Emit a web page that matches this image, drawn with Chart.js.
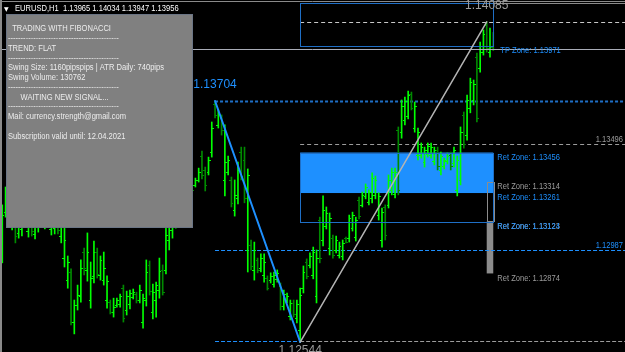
<!DOCTYPE html>
<html>
<head>
<meta charset="utf-8">
<script src="https://cdn.jsdelivr.net/npm/chart.js@4.4.1/dist/chart.umd.min.js"></script>
<style>
  html, body { margin: 0; padding: 0; background: #000; overflow: hidden; }
  #chart { display: block; background: #000; }
</style>
</head>
<body>
<canvas id="chart" width="625" height="352"></canvas>
<script>
// EURUSD H1 bars, oldest first
const opens = [
  1.12987, 1.13169, 1.13237, 1.13112, 1.13189, 1.13069, 1.13088, 1.13199, 1.13078, 1.13169,
  1.13064, 1.13102, 1.13233, 1.13112, 1.13214, 1.13088, 1.13092, 1.13165, 1.13054, 1.12948,
  1.12842, 1.12881, 1.12640, 1.12722, 1.12765, 1.12977, 1.12891, 1.12746, 1.12862, 1.12977,
  1.12867, 1.12842, 1.12746, 1.12736, 1.12688, 1.12722, 1.12727, 1.12803, 1.12698, 1.12727,
  1.12760, 1.12775, 1.12746, 1.12640, 1.12746, 1.12915, 1.12688, 1.12746, 1.12794, 1.12891,
  1.12891, 1.13035, 1.13083, 1.13169, 1.13247, 1.13189, 1.13228, 1.13257, 1.13343, 1.13300,
  1.13324, 1.13439, 1.13372, 1.13362, 1.13458, 1.13690, 1.13589, 1.13622, 1.13324, 1.13362,
  1.13324, 1.13179, 1.13237, 1.13458, 1.13420, 1.12987, 1.13011, 1.12891, 1.12939, 1.12900,
  1.12867, 1.12852, 1.12842, 1.12823, 1.12848, 1.12813, 1.12717, 1.12746, 1.12669, 1.12732,
  1.12659, 1.12602, 1.12803, 1.12929, 1.12915, 1.12867, 1.12765, 1.13131, 1.13035, 1.13102,
  1.12996, 1.13044, 1.12987, 1.12963, 1.12958, 1.13044, 1.13044, 1.13092, 1.13049, 1.13228,
  1.13204, 1.13247, 1.13218, 1.13237, 1.13252, 1.13155, 1.13035, 1.13194, 1.13204, 1.13276,
  1.13257, 1.13564, 1.13554, 1.13613, 1.13632, 1.13738, 1.13574, 1.13444, 1.13444, 1.13410,
  1.13449, 1.13444, 1.13415, 1.13468, 1.13372, 1.13391, 1.13415, 1.13444, 1.13406, 1.13276,
  1.13324, 1.13637, 1.13540, 1.13670, 1.13709, 1.13915, 1.13862, 1.13939, 1.14070, 1.13939,
  1.13965
];
const highs = [
  1.13204, 1.13290, 1.13252, 1.13228, 1.13204, 1.13204, 1.13179, 1.13228, 1.13204, 1.13189,
  1.13179, 1.13228, 1.13252, 1.13228, 1.13237, 1.13204, 1.13189, 1.13179, 1.13169, 1.13121,
  1.12958, 1.12896, 1.12746, 1.12818, 1.12939, 1.12996, 1.13069, 1.12929, 1.13030, 1.12996,
  1.12958, 1.12977, 1.12862, 1.12746, 1.12755, 1.12755, 1.12775, 1.12818, 1.12789, 1.12794,
  1.12799, 1.12784, 1.12818, 1.12775, 1.12939, 1.12934, 1.12823, 1.12832, 1.12948, 1.12915,
  1.13112, 1.13155, 1.13204, 1.13237, 1.13266, 1.13285, 1.13314, 1.13333, 1.13362, 1.13333,
  1.13381, 1.13463, 1.13386, 1.13434, 1.13603, 1.13704, 1.13661, 1.13637, 1.13589, 1.13439,
  1.13338, 1.13324, 1.13410, 1.13482, 1.13482, 1.13377, 1.13035, 1.13025, 1.12948, 1.12968,
  1.12968, 1.12862, 1.12877, 1.12881, 1.12891, 1.12828, 1.12794, 1.12780, 1.12746, 1.12746,
  1.12746, 1.12803, 1.12910, 1.12944, 1.12973, 1.13001, 1.12987, 1.13145, 1.13247, 1.13194,
  1.13165, 1.13059, 1.13054, 1.13025, 1.13035, 1.13049, 1.13155, 1.13169, 1.13145, 1.13242,
  1.13266, 1.13305, 1.13276, 1.13358, 1.13343, 1.13262, 1.13189, 1.13204, 1.13348, 1.13381,
  1.13381, 1.13579, 1.13709, 1.13723, 1.13752, 1.13747, 1.13699, 1.13574, 1.13502, 1.13482,
  1.13502, 1.13502, 1.13482, 1.13482, 1.13458, 1.13429, 1.13454, 1.13458, 1.13482, 1.13439,
  1.13579, 1.13651, 1.13733, 1.13814, 1.13805, 1.13935, 1.13988, 1.14046, 1.14085, 1.14055,
  1.14034
];
const lows = [
  1.12925, 1.13145, 1.13121, 1.13083, 1.13021, 1.13044, 1.13054, 1.13102, 1.13049, 1.13054,
  1.13040, 1.13073, 1.13107, 1.13088, 1.13102, 1.13059, 1.13064, 1.13064, 1.13021, 1.12905,
  1.12803, 1.12626, 1.12583, 1.12698, 1.12736, 1.12867, 1.12837, 1.12707, 1.12828, 1.12852,
  1.12842, 1.12818, 1.12707, 1.12679, 1.12664, 1.12712, 1.12712, 1.12640, 1.12674, 1.12703,
  1.12751, 1.12732, 1.12732, 1.12611, 1.12717, 1.12770, 1.12655, 1.12664, 1.12755, 1.12770,
  1.12872, 1.12987, 1.13044, 1.13092, 1.13140, 1.13169, 1.13204, 1.13237, 1.13252, 1.13290,
  1.13314, 1.13329, 1.13271, 1.13348, 1.13434, 1.13622, 1.13574, 1.13540, 1.13247, 1.13348,
  1.13194, 1.13150, 1.13209, 1.13324, 1.13214, 1.12881, 1.12891, 1.12842, 1.12877, 1.12881,
  1.12832, 1.12794, 1.12828, 1.12808, 1.12832, 1.12698, 1.12698, 1.12732, 1.12650, 1.12664,
  1.12636, 1.12544, 1.12780, 1.12848, 1.12900, 1.12848, 1.12732, 1.12925, 1.13006, 1.13088,
  1.12963, 1.12948, 1.12973, 1.12948, 1.12939, 1.13021, 1.13025, 1.13078, 1.13030, 1.13136,
  1.13194, 1.13233, 1.13204, 1.13214, 1.13233, 1.13131, 1.13001, 1.13035, 1.13189, 1.13252,
  1.13237, 1.13252, 1.13525, 1.13589, 1.13618, 1.13661, 1.13554, 1.13420, 1.13429, 1.13386,
  1.13434, 1.13429, 1.13396, 1.13372, 1.13348, 1.13377, 1.13401, 1.13372, 1.13386, 1.13247,
  1.13300, 1.13477, 1.13516, 1.13647, 1.13685, 1.13603, 1.13843, 1.13925, 1.13939, 1.13915,
  1.13947
];
const closes = [
  1.13155, 1.13252, 1.13150, 1.13199, 1.13054, 1.13174, 1.13160, 1.13126, 1.13179, 1.13078,
  1.13160, 1.13204, 1.13136, 1.13209, 1.13126, 1.13185, 1.13169, 1.13083, 1.13107, 1.13035,
  1.12929, 1.12640, 1.12722, 1.12770, 1.12900, 1.12900, 1.12977, 1.12852, 1.12977, 1.12872,
  1.12939, 1.12900, 1.12837, 1.12688, 1.12712, 1.12746, 1.12765, 1.12659, 1.12765, 1.12780,
  1.12784, 1.12746, 1.12794, 1.12755, 1.12881, 1.12789, 1.12784, 1.12818, 1.12886, 1.12784,
  1.13059, 1.13121, 1.13179, 1.13228, 1.13169, 1.13266, 1.13295, 1.13314, 1.13276, 1.13324,
  1.13362, 1.13348, 1.13300, 1.13420, 1.13574, 1.13637, 1.13647, 1.13564, 1.13410, 1.13420,
  1.13214, 1.13252, 1.13372, 1.13343, 1.13237, 1.13348, 1.12910, 1.12987, 1.12891, 1.12948,
  1.12929, 1.12803, 1.12862, 1.12867, 1.12877, 1.12717, 1.12775, 1.12765, 1.12732, 1.12679,
  1.12727, 1.12770, 1.12881, 1.12862, 1.12958, 1.12977, 1.12948, 1.12948, 1.13179, 1.13165,
  1.13140, 1.12963, 1.13035, 1.13006, 1.13021, 1.13025, 1.13140, 1.13155, 1.13131, 1.13150,
  1.13252, 1.13290, 1.13266, 1.13333, 1.13324, 1.13247, 1.13169, 1.13059, 1.13324, 1.13362,
  1.13362, 1.13276, 1.13680, 1.13704, 1.13733, 1.13670, 1.13680, 1.13554, 1.13482, 1.13468,
  1.13487, 1.13482, 1.13468, 1.13391, 1.13439, 1.13420, 1.13439, 1.13391, 1.13468, 1.13420,
  1.13554, 1.13497, 1.13709, 1.13795, 1.13786, 1.13622, 1.13969, 1.14027, 1.13959, 1.13965,
  1.13956
];

// swing points: [bar index, price]
const swingHigh = [65, 1.13704];
const swingLow = [91, 1.12544];
const newHigh = [148, 1.14085];
const lastBar = 150;

const bidPrice = 1.13956;
const tpZone = 1.13971;
const tpBoxTop = 1.14176;
const levelLines = [1.13496, 1.12987];
const retZones = [1.13456, 1.13314, 1.13261, 1.13123, 1.13124, 1.12874];

const headerText = 'EURUSD,H1  1.13965 1.14034 1.13947 1.13956';
const dashes = '--------------------------------------------';
const panelLines = [
    '  TRADING WITH FIBONACCI',
    dashes,
    'TREND: FLAT',
    dashes,
    'Swing Size: 1160pipspips | ATR Daily: 740pips',
    'Swing Volume: 130762',
    dashes,
    '      WAITING NEW SIGNAL...',
    dashes,
    'Mail: currency.strength@gmail.com',
    '',
    'Subscription valid until: 12.04.2021'
];

const UP = '#00ff00';
const DOWN = '#008a00';
const BLUE = '#1e90ff';
const DARKBLUE = '#1f6fc6';
const GREY = '#9c9c9c';
const SMALL = '8.5px "Liberation Sans", Arial, sans-serif';
const BIG = '12px "Liberation Sans", Arial, sans-serif';

function label(ctx, text, x, y, font, color, align, baseline, sx) {
    ctx.save();
    ctx.font = font;
    ctx.fillStyle = color;
    ctx.textAlign = align || 'left';
    ctx.textBaseline = baseline || 'top';
    ctx.translate(x, y);
    ctx.scale(sx || 1, 1);
    ctx.fillText(text, 0, 0);
    ctx.restore();
}

function hline(ctx, y, x1, x2, color, dash, width) {
    ctx.save();
    ctx.strokeStyle = color;
    ctx.lineWidth = width || 1;
    ctx.setLineDash(dash || []);
    ctx.beginPath();
    ctx.moveTo(x1, Math.round(y) + 0.5);
    ctx.lineTo(x2, Math.round(y) + 0.5);
    ctx.stroke();
    ctx.restore();
}

// things MT4 draws behind the bars
const backLayer = {
    id: 'backLayer',
    beforeDatasetsDraw(chart) {
        const ctx = chart.ctx;
        const xs = chart.scales.x, ys = chart.scales.y;
        const W = chart.width;
        const xLow = xs.getPixelForValue(swingLow[0]);
        const xHigh = xs.getPixelForValue(swingHigh[0]);
        const xEnd = xs.getPixelForValue(lastBar);

        // retracement zone fill
        ctx.fillStyle = BLUE;
        const zt = ys.getPixelForValue(retZones[0]);
        const zb = ys.getPixelForValue(retZones[2]);
        ctx.fillRect(xLow, zt, xEnd - xLow, zb - zt);

        // grey gauge on the right of the zone
        const gx = xs.getPixelForValue(newHigh[0]);
        const g1 = ys.getPixelForValue(retZones[1]);
        const g2 = ys.getPixelForValue(retZones[4]);
        const g3 = ys.getPixelForValue(retZones[5]);
        ctx.fillStyle = '#8c8c8c';
        ctx.fillRect(gx, g2, xEnd - gx, g3 - g2);
        ctx.strokeStyle = '#8c8c8c';
        ctx.lineWidth = 1;
        ctx.strokeRect(Math.round(gx) + 0.5, Math.round(g1) + 0.5, Math.round(xEnd - gx), Math.round(g2 - g1));

        // level lines
        hline(ctx, ys.getPixelForValue(swingHigh[1]), xHigh, W, DARKBLUE, [3, 2], 2);
        hline(ctx, ys.getPixelForValue(levelLines[1]), xHigh, W, BLUE, [4, 2]);
        hline(ctx, ys.getPixelForValue(swingLow[1]) - 1, xHigh, xLow, BLUE, [4, 2]);
        hline(ctx, ys.getPixelForValue(swingLow[1]) - 1, xLow, W, GREY, [4, 2]);
        hline(ctx, ys.getPixelForValue(levelLines[0]), xLow, W, GREY, [4, 3]);
        hline(ctx, ys.getPixelForValue(newHigh[1]), xLow, W, '#c8c8c8', [4, 3]);
    }
};

// open/close ticks, objects and labels on top of the bars
const frontLayer = {
    id: 'frontLayer',
    afterDatasetsDraw(chart) {
        const ctx = chart.ctx;
        const xs = chart.scales.x, ys = chart.scales.y;
        const W = chart.width, H = chart.height;

        ctx.save();
        ctx.lineWidth = 1;
        opens.forEach((o, i) => {
            const x = Math.round(xs.getPixelForValue(i));
            ctx.strokeStyle = closes[i] >= o ? UP : DOWN;
            const yo = Math.round(ys.getPixelForValue(o)) + 0.5;
            const yc = Math.round(ys.getPixelForValue(closes[i])) + 0.5;
            ctx.beginPath();
            ctx.moveTo(x - 2, yo); ctx.lineTo(x, yo);
            ctx.moveTo(x, yc); ctx.lineTo(x + 2, yc);
            ctx.stroke();
        });
        ctx.restore();

        const xLow = xs.getPixelForValue(swingLow[0]);
        const xHigh = xs.getPixelForValue(swingHigh[0]);
        const xTop = xs.getPixelForValue(newHigh[0]);
        const xEnd = xs.getPixelForValue(lastBar);

        // zone outlines
        ctx.save();
        ctx.strokeStyle = DARKBLUE;
        ctx.lineWidth = 1;
        const r1 = Math.round(ys.getPixelForValue(retZones[0])) + 0.5;
        const r2 = Math.round(ys.getPixelForValue(retZones[4])) + 0.5;
        ctx.strokeRect(Math.round(xLow) + 0.5, r1, Math.round(xEnd - xLow), r2 - r1);
        const t1 = Math.round(ys.getPixelForValue(tpBoxTop)) + 0.5;
        const t2 = Math.round(ys.getPixelForValue(tpZone)) + 0.5;
        ctx.strokeRect(Math.round(xLow) + 0.5, t1, Math.round(xEnd - xLow), t2 - t1);
        ctx.beginPath();
        ctx.moveTo(Math.round(xEnd) + 0.5, 0);
        ctx.lineTo(Math.round(xEnd) + 0.5, t1);
        ctx.stroke();
        ctx.restore();

        // window frame bits and the bid line
        hline(ctx, 1, 0, W, '#8a8a8a');
        hline(ctx, ys.getPixelForValue(tpBoxTop), xEnd, W, '#8a8a8a');
        hline(ctx, ys.getPixelForValue(bidPrice), 0, W, '#a9adb8');
        ctx.fillStyle = '#8a8a8a';
        ctx.fillRect(0, 0, 2, H);

        // swing lines
        ctx.save();
        ctx.lineCap = 'round';
        ctx.strokeStyle = BLUE;
        ctx.lineWidth = 2;
        ctx.beginPath();
        ctx.moveTo(xHigh, ys.getPixelForValue(swingHigh[1]));
        ctx.lineTo(xLow, ys.getPixelForValue(swingLow[1]));
        ctx.stroke();
        ctx.strokeStyle = '#b4b4b4';
        ctx.lineWidth = 1.5;
        ctx.beginPath();
        ctx.moveTo(xLow, ys.getPixelForValue(swingLow[1]));
        ctx.lineTo(xTop, ys.getPixelForValue(newHigh[1]));
        ctx.stroke();
        ctx.restore();

        // price labels
        label(ctx, swingHigh[1].toFixed(5), xHigh, ys.getPixelForValue(swingHigh[1]) - 10, BIG, BLUE, 'center', 'bottom');
        label(ctx, swingLow[1].toFixed(5), xLow, ys.getPixelForValue(swingLow[1]) + 3, BIG, GREY, 'center', 'top');
        label(ctx, newHigh[1].toFixed(5), xTop, ys.getPixelForValue(newHigh[1]) - 10, BIG, GREY, 'center', 'bottom');
        label(ctx, 'TP Zone: ' + tpZone.toFixed(5), xEnd + 7, ys.getPixelForValue(tpZone) + 1, SMALL, BLUE, 'left', 'top', 0.89);
        const zoneColors = [BLUE, GREY, BLUE, GREY, BLUE, GREY];
        retZones.forEach((z, k) => {
            label(ctx, 'Ret Zone: ' + z.toFixed(5), xEnd + 4, ys.getPixelForValue(z) + 0.5, SMALL, zoneColors[k], 'left', 'top', 0.89);
        });
        label(ctx, levelLines[0].toFixed(5), W - 2, ys.getPixelForValue(levelLines[0]) - 0.5, SMALL, GREY, 'right', 'bottom', 0.89);
        label(ctx, levelLines[1].toFixed(5), W - 2, ys.getPixelForValue(levelLines[1]) - 0.5, SMALL, BLUE, 'right', 'bottom', 0.89);

        // info panel
        ctx.fillStyle = '#808080';
        ctx.fillRect(6, 14, 187, 214);
        ctx.strokeStyle = '#6b7585';
        ctx.lineWidth = 1;
        ctx.strokeRect(6.5, 14.5, 186, 213);
        panelLines.forEach((t, k) => {
            label(ctx, t, 8, 29 + k * 9.75, SMALL, '#ececec', 'left', 'middle', 0.89);
        });

        // header
        label(ctx, '\u25BC', 4, 9, '6px "DejaVu Sans", sans-serif', '#ffffff', 'left', 'middle');
        label(ctx, headerText, 15, 9, SMALL, '#ffffff', 'left', 'middle', 0.89);
    }
};

const ctx = document.getElementById('chart');
new Chart(ctx, {
    type: 'bar',
    data: {
        datasets: [{
            data: highs.map((h, i) => ({ x: i, y: [lows[i], h] })),
            backgroundColor: closes.map((c, i) => c >= opens[i] ? UP : DOWN),
            borderWidth: 0,
            barThickness: 1
        }]
    },
    options: {
        responsive: false,
        animation: false,
        devicePixelRatio: 1,
        layout: { padding: 0 },
        plugins: {
            legend: { display: false },
            tooltip: { enabled: false }
        },
        scales: {
            x: { type: 'linear', min: -0.703, max: 190.25, offset: false, display: false },
            y: { type: 'linear', min: 1.124959, max: 1.141901, display: false }
        }
    },
    plugins: [backLayer, frontLayer]
});
</script>
</body>
</html>
